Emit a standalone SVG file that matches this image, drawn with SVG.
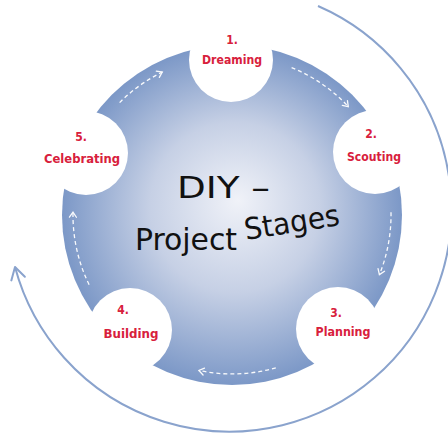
<svg xmlns="http://www.w3.org/2000/svg" width="448" height="438" viewBox="0 0 448 438">
  <defs>
    <radialGradient id="disc" cx="232" cy="215" r="170" fx="238" fy="200" gradientUnits="userSpaceOnUse">
      <stop offset="0" stop-color="#f0f2f8"/>
      <stop offset="0.5" stop-color="#c6d0e5"/>
      <stop offset="1" stop-color="#7c98c7"/>
    </radialGradient>
    <marker id="dashHead" viewBox="-7 -5 9 10" refX="0" refY="0" markerWidth="9" markerHeight="10" markerUnits="userSpaceOnUse" orient="auto">
      <path d="M -5 -3.5 L 0 0 L -5 3.5" fill="none" stroke="#ffffff" stroke-width="1.3" stroke-linecap="round"/>
    </marker>
    <marker id="outerHead" viewBox="-14 -9 16 18" refX="0" refY="0" markerWidth="16" markerHeight="18" markerUnits="userSpaceOnUse" orient="auto">
      <path d="M -12 -7 L 0 0 L -12 7" fill="none" stroke="#8aa3cd" stroke-width="2" stroke-linecap="round" stroke-linejoin="round"/>
    </marker>
    <style>
      .node-bg { fill: #ffffff; }
      .num { font-family: "DejaVu Sans Condensed", "DejaVu Sans", sans-serif; font-weight: bold; font-size: 12px; fill: #d8203c; text-anchor: middle; }
      .label { font-family: "DejaVu Sans Condensed", "DejaVu Sans", sans-serif; font-weight: bold; font-size: 12px; fill: #d8203c; text-anchor: middle; }
      .title { font-family: "DejaVu Sans Condensed", "DejaVu Sans", sans-serif; font-weight: normal; font-size: 30px; fill: #111111; }
      .dash { fill: none; stroke: #ffffff; stroke-width: 1.3; stroke-dasharray: 4 3; marker-end: url(#dashHead); opacity: 0.95; }
      .outer { fill: none; stroke: #8aa3cd; stroke-width: 2; marker-end: url(#outerHead); }
    </style>
  </defs>

  <g id="hub">
    <circle cx="232" cy="215" r="170" fill="url(#disc)"/>
  </g>

  <g id="connectors">
    <path class="outer" d="M 318 6 A 222 222 0 1 1 15 267"/>
    <path class="dash" d="M 119.6 102.6 A 159 159 0 0 1 162.3 72.1"/>
    <path class="dash" d="M 291.6 67.6 A 159 159 0 0 1 348.3 106.6"/>
    <path class="dash" d="M 391 212.2 A 159 159 0 0 1 379.4 274.6"/>
    <path class="dash" d="M 275.8 367.8 A 159 159 0 0 1 198.9 370.5"/>
    <path class="dash" d="M 89.1 284.7 A 159 159 0 0 1 73 212.2"/>
  </g>

  <g id="node-dreaming">
    <circle class="node-bg" cx="231" cy="60" r="42"/>
    <text class="num" x="232" y="44">1.</text>
    <text class="label" x="232" y="64" textLength="60" lengthAdjust="spacingAndGlyphs">Dreaming</text>
  </g>
  <g id="node-scouting">
    <circle class="node-bg" cx="375" cy="152" r="42"/>
    <text class="num" x="371" y="138">2.</text>
    <text class="label" x="374" y="161" textLength="54" lengthAdjust="spacingAndGlyphs">Scouting</text>
  </g>
  <g id="node-planning">
    <circle class="node-bg" cx="338" cy="329" r="42"/>
    <text class="num" x="336" y="317">3.</text>
    <text class="label" x="343" y="336" textLength="55" lengthAdjust="spacingAndGlyphs">Planning</text>
  </g>
  <g id="node-building">
    <circle class="node-bg" cx="130" cy="330" r="42"/>
    <text class="num" x="123" y="314">4.</text>
    <text class="label" x="131" y="338" textLength="55" lengthAdjust="spacingAndGlyphs">Building</text>
  </g>
  <g id="node-celebrating">
    <circle class="node-bg" cx="86" cy="153" r="42"/>
    <text class="num" x="81" y="141">5.</text>
    <text class="label" x="82" y="163" textLength="76" lengthAdjust="spacingAndGlyphs">Celebrating</text>
  </g>

  <g id="title">
    <text class="title" x="177" y="198" textLength="93" lengthAdjust="spacingAndGlyphs">DIY –</text>
    <text class="title" x="135" y="250" textLength="102" lengthAdjust="spacingAndGlyphs">Project</text>
    <text class="title" x="246" y="240" textLength="96" lengthAdjust="spacingAndGlyphs" transform="rotate(-9 246 240)">Stages</text>
  </g>
</svg>
